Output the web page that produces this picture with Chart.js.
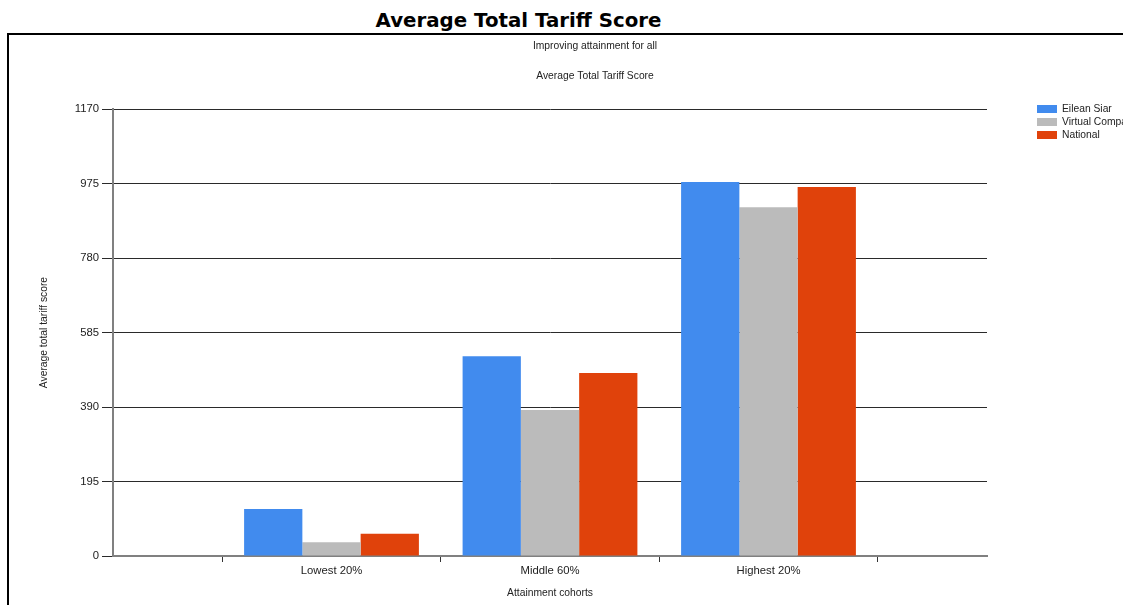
<!DOCTYPE html>
<html>
<head>
<meta charset="utf-8">
<script src="https://cdn.jsdelivr.net/npm/chart.js@4.4.0/dist/chart.umd.min.js"></script>
<style>
html, body { margin: 0; padding: 0; overflow: hidden; background: #fff; width: 1123px; height: 605px; }
#title {
  position: absolute; left: 0; top: 10.6px; width: 1037px; text-align: center;
  font-family: "DejaVu Sans", sans-serif; font-weight: bold; font-size: 19.8px; line-height: 20px; color: #000;
}
#box {
  position: absolute; left: 7px; top: 33px; width: 1172px; height: 575px;
  border: 2px solid #000; background: #fff;
}
#box canvas { display: block; }
#legend { position: absolute; left: 1037px; top: 102px; font-family: "Liberation Sans", Arial, sans-serif; font-size: 10.3px; color: #222; }
.item { height: 13px; line-height: 13px; white-space: nowrap; }
.sw { display: inline-block; width: 20px; height: 8px; margin-right: 5px; vertical-align: -0.5px; }
</style>
</head>
<body>
<div id="title">Average Total Tariff Score</div>
<div id="box"><canvas id="chart" width="1172" height="575"></canvas></div>
<div id="legend"></div>
<script>
// values
const cohorts = ['Lowest 20%', 'Middle 60%', 'Highest 20%']
const seriesNames = ['Eilean Siar', 'Virtual Comparator', 'National']
const eileanSiar = [123, 523, 979]
const virtualComparator = [36, 382, 913]
const national = [58, 479, 966]
const yTicks = [0, 195, 390, 585, 780, 975, 1170]
const colors = ['#418BEE', '#BBBBBB', '#E0420B']

// empty half-slot at each end like the original
const labels = [''].concat(cohorts, [''])
function pad(arr){ return [null].concat(arr, [null]) }

const family = '"Liberation Sans", Arial, sans-serif'
const titleFont = { family: family, size: 10.3, weight: 'normal' }
const tickFont = { family: family, size: 11.3 }
const txt = '#222'

const chart = new Chart(document.getElementById('chart'), {
  type: 'bar',
  data: {
    labels: labels,
    datasets: [eileanSiar, virtualComparator, national].map((d, i) => ({
      label: seriesNames[i],
      data: pad(d),
      backgroundColor: colors[i],
      borderWidth: 0,
      categoryPercentage: 0.8,
      barPercentage: 1
    }))
  },
  options: {
    responsive: false,
    animation: false,
    plugins: {
      legend: { display: false },
      tooltip: { enabled: false },
      title: { display: true, text: 'Improving attainment for all', font: titleFont, color: txt, padding: { top: 5.2, bottom: 0 } },
      subtitle: { display: true, text: 'Average Total Tariff Score', font: titleFont, color: txt, padding: { top: 17.2, bottom: 27 } }
    },
    scales: {
      x: {
        offset: false,
        grid: { offset: true, drawOnChartArea: false, drawTicks: true, tickLength: 6, color: '#333', lineWidth: 1 },
        border: { color: '#808080', width: 2 },
        ticks: { font: tickFont, color: txt, padding: 2, maxRotation: 0, autoSkip: false },
        title: { display: true, text: 'Attainment cohorts', font: titleFont, color: txt, padding: { top: 0, bottom: 10.7 } },
        afterFit: s => { s.height = 54 }
      },
      y: {
        min: yTicks[0],
        max: yTicks[yTicks.length - 1],
        afterBuildTicks: s => { s.ticks = yTicks.map(v => ({ value: v })) },
        grid: { color: '#2a2a2a', lineWidth: 1, tickLength: 11 },
        border: { color: '#808080', width: 2 },
        ticks: { font: tickFont, color: txt, padding: 3, callback: v => String(v) },
        title: { display: true, text: 'Average total tariff score', font: titleFont, color: txt, padding: { top: 29, bottom: 0 } },
        afterFit: s => { s.width = 104 }
      },
      // empty space on the right where the legend sits
      legendSpace: {
        type: 'linear', position: 'right', min: 0, max: 1,
        grid: { display: false }, border: { display: false }, ticks: { display: false },
        afterFit: s => { s.width = 194 }
      }
    }
  }
})

// legend on the right, cut off by the page edge like the original
const legend = document.getElementById('legend')
chart.data.datasets.forEach(ds => {
  const row = document.createElement('div')
  row.className = 'item'
  row.innerHTML = '<span class="sw" style="background:' + ds.backgroundColor + '"></span>' + ds.label
  legend.appendChild(row)
})
</script>
</body>
</html>
